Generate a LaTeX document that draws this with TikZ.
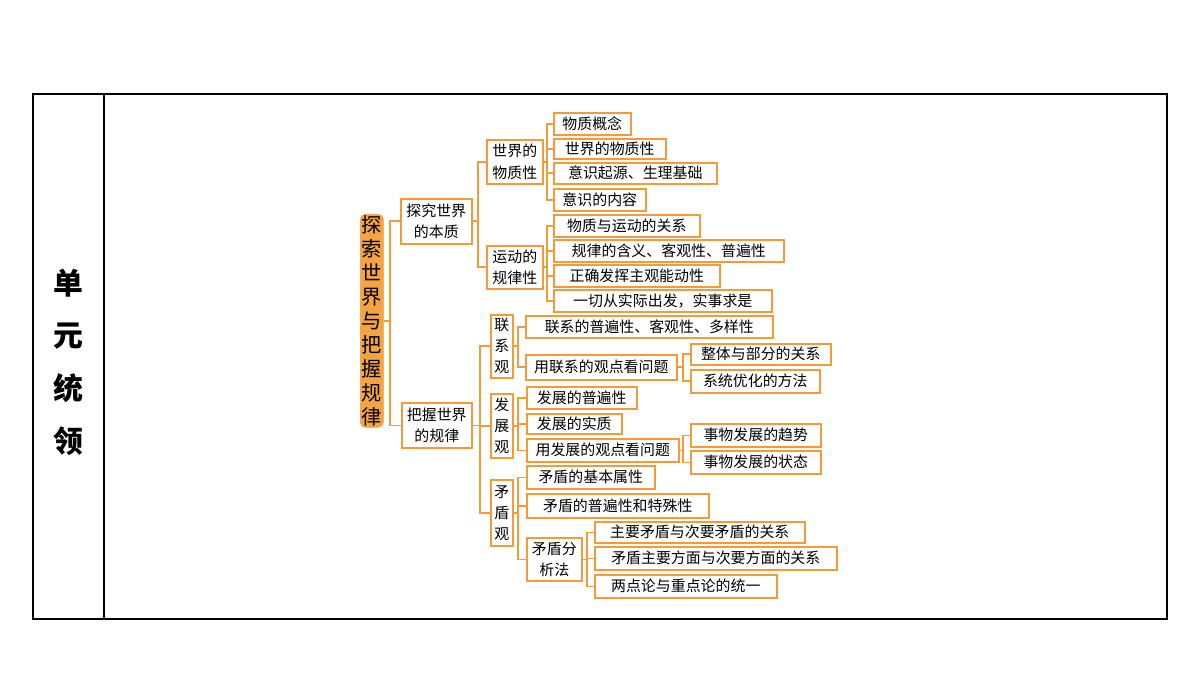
\documentclass[tikz,border=0pt]{standalone}
\usepackage{fontspec}
\setmainfont{Noto Sans CJK SC}
\usetikzlibrary{positioning, calc}
\definecolor{lineorange}{HTML}{F39A3A}
\definecolor{rootfill}{HTML}{F5A443}
% box from pixel corners
\newcommand{\bx}[6]{\node [box, minimum width={(#4-#2)*0.02cm}, minimum height={(#5-#3)*0.02cm}, anchor=north west] (#1) at (#2,#3) {#6};}

\begin{document}
\begin{tikzpicture}
    [
        x=0.02cm, y=-0.02cm,
        box/.style = {draw=lineorange, line width=0.9pt, fill=white, inner sep=1pt, align=center, font=\fontsize{8.5}{12}\selectfont},
        link/.style = {draw=lineorange, line width=0.9pt}
    ]
    \useasboundingbox (0,0) rectangle (1200,675);
    \draw [line width=1pt] (33,94) rectangle (1167,619);
    \draw [line width=1pt] (104,94) -- (104,619);
    \node [align=center, font=\fontsize{17}{30}\selectfont\bfseries] (title) at (68,362) {单\\元\\统\\领};

    \node [draw=lineorange, fill=rootfill, rounded corners=3pt, minimum width=0.46cm, minimum height={213*0.02cm}, anchor=north west, inner sep=0pt, align=center, font=\fontsize{11.5}{13.6}\selectfont] (root) at (360,214) {探\\索\\世\\界\\与\\把\\握\\规\\律};

    \bx{tanjiu}{400}{198}{471}{243}{探究世界\\的本质}
    \bx{bawo}{401}{402}{471}{447}{把握世界\\的规律}
    \bx{wuzhi}{486}{139}{542}{183}{世界的\\物质性}
    \bx{yundong}{486}{245}{542}{288}{运动的\\规律性}
    \bx{a1}{553}{112}{630}{134}{物质概念}
    \bx{a2}{553}{138}{665}{158}{世界的物质性}
    \bx{a3}{553}{162}{716}{183}{意识起源、生理基础}
    \bx{a4}{553}{188}{645}{210}{意识的内容}
    \bx{b1}{553}{214}{699}{236}{物质与运动的关系}
    \bx{b2}{553}{239}{783}{261}{规律的含义、客观性、普遍性}
    \bx{b3}{553}{264}{719}{286}{正确发挥主观能动性}
    \bx{b4}{553}{289}{771}{311}{一切从实际出发，实事求是}

    \bx{lianxi}{490}{314}{512}{377}{联\\系\\观}
    \bx{fazhan}{490}{393}{512}{457}{发\\展\\观}
    \bx{maodun}{490}{479}{512}{545}{矛\\盾\\观}
    \bx{c1}{525}{315}{772}{337}{联系的普遍性、客观性、多样性}
    \bx{c2}{525}{354}{676}{379}{用联系的观点看问题}
    \bx{c21}{690}{343}{830}{364}{整体与部分的关系}
    \bx{c22}{690}{369}{819}{392}{系统优化的方法}
    \bx{d1}{526}{386}{636}{408}{发展的普遍性}
    \bx{d2}{526}{413}{621}{433}{发展的实质}
    \bx{d3}{526}{438}{678}{461}{用发展的观点看问题}
    \bx{d31}{690}{423}{820}{446}{事物发展的趋势}
    \bx{d32}{690}{450}{820}{473}{事物发展的状态}
    \bx{e1}{526}{465}{654}{488}{矛盾的基本属性}
    \bx{e2}{526}{493}{708}{517}{矛盾的普遍性和特殊性}
    \bx{e3}{526}{537}{581}{580}{矛盾分\\析法}
    \bx{e31}{594}{521}{804}{542}{主要矛盾与次要矛盾的关系}
    \bx{e32}{594}{546}{836}{569}{矛盾主要方面与次要方面的关系}
    \bx{e33}{594}{574}{776}{597}{两点论与重点论的统一}

    % elbow connectors: parent / bus x / children
    \foreach \p/\bus/\kids in {root/390/{tanjiu,bawo}, tanjiu/478/{wuzhi,yundong},
        wuzhi/547/{a1,a2,a3,a4}, yundong/547/{b1,b2,b3,b4},
        bawo/480/{lianxi,fazhan,maodun}, lianxi/518/{c1,c2}, c2/683/{c21,c22},
        fazhan/518/{d1,d2,d3}, d3/683/{d31,d32}, maodun/518/{e1,e2,e3}, e3/587/{e31,e32,e33}}
        \foreach \k in \kids \draw [link] (\p.east) -- (\p.east -| \bus,0) |- (\k.west);
\end{tikzpicture}
\end{document}
